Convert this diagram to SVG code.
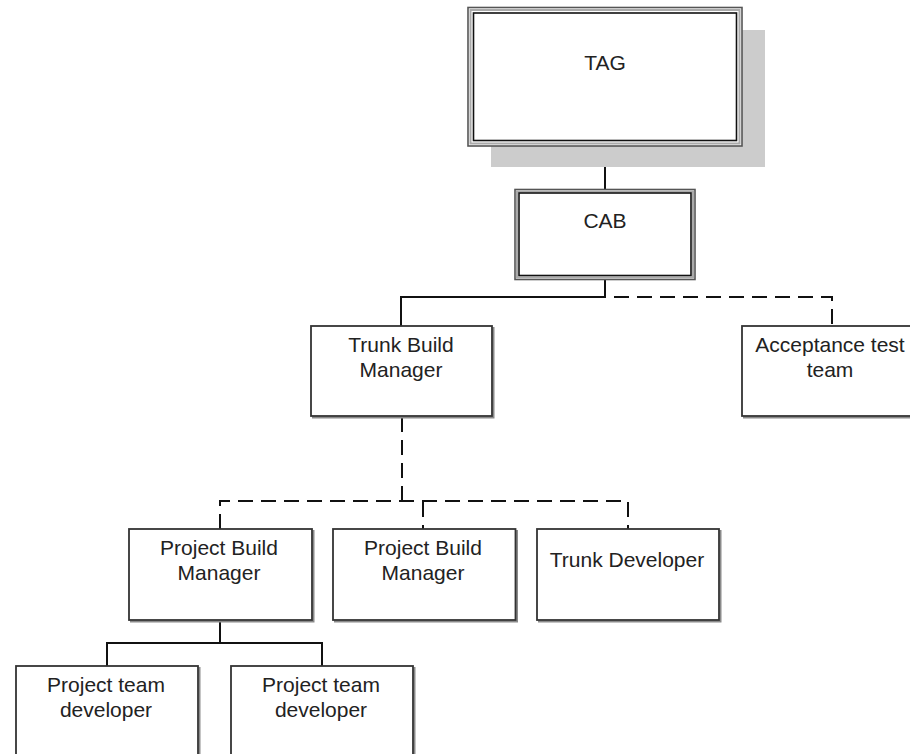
<svg xmlns="http://www.w3.org/2000/svg" width="910" height="754" viewBox="0 0 910 754">
  <style>
    .lbl { font-family: "Liberation Sans", Arial, sans-serif; font-size: 21px; fill: #222; text-anchor: middle; }
    .box { fill: #fff; stroke: #333; stroke-width: 1.8; }
    .edge { fill: none; stroke: #8a8a8a; stroke-width: 2; }
    .dbl-out { fill: #fff; stroke: #555; stroke-width: 1.6; }
    .dbl-mid { fill: none; stroke: #aaa; stroke-width: 2; }
    .dbl-in { fill: none; stroke: #111; stroke-width: 1.6; }
    .solid { fill: none; stroke: #111; stroke-width: 2; }
    .dash { fill: none; stroke: #111; stroke-width: 2; stroke-dasharray: 15 8; }
  </style>
  <rect width="910" height="754" fill="#fff"/>

  <!-- connectors -->
  <g id="connectors">
    <path class="solid" d="M605 146 V189"/>
    <path class="solid" d="M605 280 V297 H401 V326"/>
    <path class="dash" d="M614 297 H832 V326"/>
    <path class="dash" d="M402 417 V501"/>
    <path class="dash" d="M220 529 V501 H628 V529"/>
    <path class="dash" d="M423 502 V529"/>
    <path class="solid" d="M220 621 V643"/>
    <path class="solid" d="M107 666 V643 H322 V666"/>
  </g>

  <!-- TAG: double border with drop shadow -->
  <g id="tag">
    <rect x="491" y="30" width="274" height="137" fill="#cccccc"/>
    <rect class="dbl-out" x="468" y="7.5" width="274" height="138.5"/>
    <rect class="dbl-mid" x="470.5" y="10" width="269" height="133.5"/>
    <rect class="dbl-in" x="473.5" y="13" width="263" height="127.5"/>
    <text class="lbl" x="605" y="70">TAG</text>
  </g>

  <!-- CAB: double border -->
  <g id="cab">
    <rect class="dbl-out" x="515" y="189.5" width="180" height="90"/>
    <rect class="dbl-mid" x="517" y="191.5" width="176" height="86"/>
    <rect class="dbl-in" x="519" y="193" width="172" height="82.5"/>
    <text class="lbl" x="605" y="228">CAB</text>
  </g>

  <g id="trunk-build-manager">
    <path class="edge" d="M312 417.5 H493.5 V327"/>
    <rect class="box" x="311" y="326" width="181" height="90"/>
    <text class="lbl" x="401" y="352">Trunk Build</text>
    <text class="lbl" x="401" y="377">Manager</text>
  </g>

  <g id="acceptance-test-team">
    <path class="edge" d="M743 417.5 H925"/>
    <rect class="box" x="742" y="326" width="182" height="90"/>
    <text class="lbl" x="830" y="352">Acceptance test</text>
    <text class="lbl" x="830" y="377">team</text>
  </g>

  <g id="project-build-manager-1">
    <path class="edge" d="M130 621.5 H313.5 V530"/>
    <rect class="box" x="129" y="529" width="183" height="91"/>
    <text class="lbl" x="219" y="555">Project Build</text>
    <text class="lbl" x="219" y="580">Manager</text>
  </g>

  <g id="project-build-manager-2">
    <path class="edge" d="M334 621.5 H517 V530"/>
    <rect class="box" x="333" y="529" width="182.5" height="91"/>
    <text class="lbl" x="423" y="555">Project Build</text>
    <text class="lbl" x="423" y="580">Manager</text>
  </g>

  <g id="trunk-developer">
    <path class="edge" d="M538 621.5 H720.5 V530"/>
    <rect class="box" x="537" y="529" width="182" height="91"/>
    <text class="lbl" x="627" y="567">Trunk Developer</text>
  </g>

  <g id="project-team-developer-1">
    <path class="edge" d="M199.5 667 V760"/>
    <rect class="box" x="16" y="666" width="182" height="100"/>
    <text class="lbl" x="106" y="692">Project team</text>
    <text class="lbl" x="106" y="717">developer</text>
  </g>

  <g id="project-team-developer-2">
    <path class="edge" d="M414.5 667 V760"/>
    <rect class="box" x="231" y="666" width="182" height="100"/>
    <text class="lbl" x="321" y="692">Project team</text>
    <text class="lbl" x="321" y="717">developer</text>
  </g>
</svg>
